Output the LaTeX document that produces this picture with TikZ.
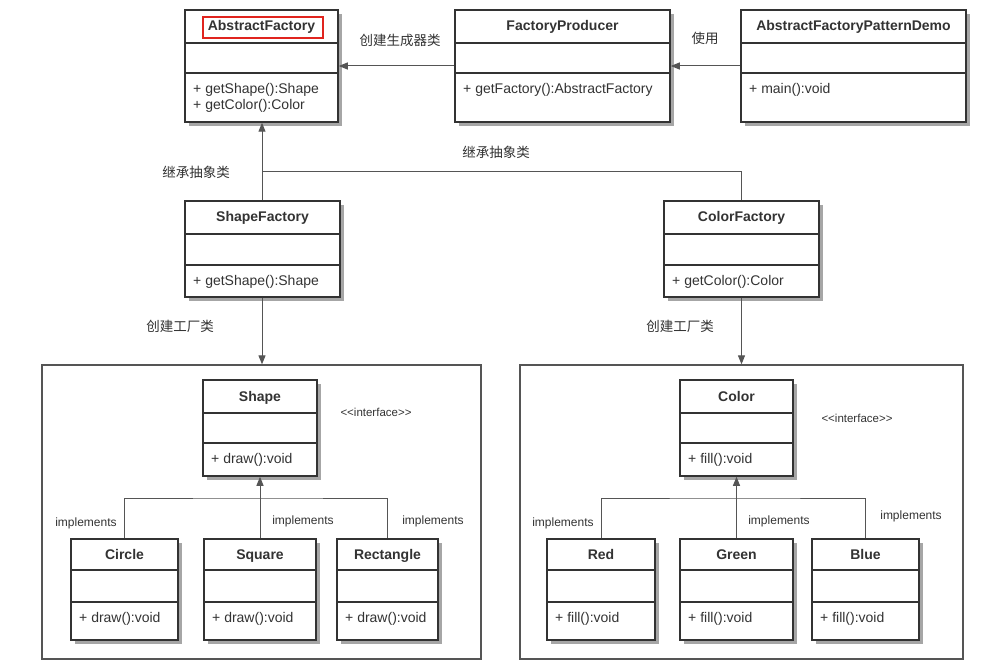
\documentclass[tikz,border=0pt]{standalone}
\usepackage{fontspec}
\setmainfont{Liberation Sans}
\newfontfamily\cjk{Noto Sans CJK SC}
\usetikzlibrary{arrows.meta,shadows,fit}
\definecolor{boxline}{HTML}{333333}
\definecolor{connline}{HTML}{555555}
\definecolor{txt}{HTML}{333333}
\definecolor{hlred}{HTML}{E0241E}
\tikzset{
  clsbox/.style={draw=boxline, line width=1.5pt, fill=white, inner sep=0pt,
    drop shadow={shadow xshift=4pt, shadow yshift=-4pt, fill=black!35, opacity=1}},
  clsline/.style={draw=boxline, line width=1.3pt},
  clstitle/.style={font=\fontsize{14}{16}\selectfont\bfseries, text=txt, inner sep=0pt, text height=10pt, text depth=3pt},
  clsmeth/.style={font=\fontsize{14}{16}\selectfont, text=txt, inner sep=0pt, anchor=north west, align=left},
  contbox/.style={draw=connline, line width=1.3pt, inner sep=0pt},
  conn/.style={draw=connline, line width=1pt},
  arr/.style={conn, -{Triangle[length=9pt,width=7pt]}},
  cnlbl/.style={font=\cjk\fontsize{13.5}{15}\selectfont, text=txt, inner sep=0pt},
  implbl/.style={font=\fontsize{12}{14}\selectfont, text=txt, inner sep=0pt},
  iflbl/.style={font=\fontsize{11.5}{13}\selectfont, text=txt, inner sep=0pt},
  hlbox/.style={draw=hlred, line width=1.8pt, minimum width=120pt, minimum height=21pt, inner sep=0pt}
}
\newcommand{\umlcls}[9]{%
  \coordinate (#1-nw) at (#2,#3);
  \coordinate (#1-se) at (#4,#5);
  \node[clsbox, fit=(#1-nw)(#1-se)] (#1) {};
  \draw[clsline] (#2,#6) -- (#4,#6);
  \draw[clsline] (#2,#7) -- (#4,#7);
  \node[clstitle] (#1-t) at ({(#2+#4)/2},{(#3+#6)/2+1}) {#8};
  \node[clsmeth] (#1-m) at (#2+8,#7+10) {#9};
}
\begin{document}
\begin{tikzpicture}[x=1pt,y=-1pt]
\useasboundingbox (0,0) rectangle (995,671);
\fill[white] (0,0) rectangle (995,671);

% containers
\coordinate (lc-nw) at (42,365); \coordinate (lc-se) at (481,659);
\node[contbox, fit=(lc-nw)(lc-se)] (lc) {};
\coordinate (rc-nw) at (520,365); \coordinate (rc-se) at (963,659);
\node[contbox, fit=(rc-nw)(rc-se)] (rc) {};

% classes
\umlcls{af}{185}{10}{338}{122}{43}{73}{AbstractFactory}{+ getShape():Shape\\+ getColor():Color}
\node[hlbox] (af-hl) at (263,27.5) {};
\umlcls{fp}{455}{10}{670}{122}{43}{73}{FactoryProducer}{+ getFactory():AbstractFactory}
\umlcls{demo}{741}{10}{966}{122}{43}{73}{AbstractFactoryPatternDemo}{+ main():void}
\umlcls{sf}{185}{201}{340}{297}{234}{265}{ShapeFactory}{+ getShape():Shape}
\umlcls{cf}{664}{201}{819}{297}{234}{265}{ColorFactory}{+ getColor():Color}
\umlcls{shape}{203}{380}{317}{476}{413}{443}{Shape}{+ draw():void}
\umlcls{color}{680}{380}{793}{476}{413}{443}{Color}{+ fill():void}
\umlcls{circle}{71}{539}{178}{640}{570}{602}{Circle}{+ draw():void}
\umlcls{square}{204}{539}{316}{640}{570}{602}{Square}{+ draw():void}
\umlcls{rect}{337}{539}{438}{640}{570}{602}{Rectangle}{+ draw():void}
\umlcls{red}{547}{539}{655}{640}{570}{602}{Red}{+ fill():void}
\umlcls{green}{680}{539}{793}{640}{570}{602}{Green}{+ fill():void}
\umlcls{blue}{812}{539}{919}{640}{570}{602}{Blue}{+ fill():void}

% connectors top
\draw[arr] (fp.west) -- (af.east);
\draw[arr] (demo.west) -- (fp.east);
\coordinate (jn) at (262,172);
\draw[arr] (sf.north -| jn) -- (af.south -| jn);
\draw[conn] (cf.north) |- (jn);
\draw[arr] (sf.south -| jn) -- (lc.north -| jn);
\draw[arr] (cf.south) -- (cf.south |- rc.north);

% shape hierarchy
\coordinate (lj) at (260,498);
\draw[arr] (square.north -| lj) -- (shape.south -| lj);
\draw[conn] (circle.north) |- (lj) -| (rect.north);
\coordinate (rj) at (736.5,498);
\draw[arr] (green.north -| rj) -- (color.south -| rj);
\draw[conn] (red.north) |- (rj) -| (blue.north);

% labels
\node[cnlbl] (l1) at (400,40) {创建生成器类};
\node[cnlbl] (l2) at (705,38) {使用};
\node[cnlbl] (l3) at (196,172) {继承抽象类};
\node[cnlbl] (l4) at (496,152) {继承抽象类};
\node[cnlbl] (l5) at (180,326) {创建工厂类};
\node[cnlbl] (l6) at (680,326) {创建工厂类};
\node[iflbl] (if1) at (376,412) {<{}<interface>{}>};
\node[iflbl] (if2) at (857,418) {<{}<interface>{}>};
\node[implbl] (i1) at (86,523) {implements};
\node[implbl] (i2) at (303,521) {implements};
\node[implbl] (i3) at (433,521) {implements};
\node[implbl] (i4) at (563,523) {implements};
\node[implbl] (i5) at (779,521) {implements};
\node[implbl] (i6) at (911,516) {implements};
\end{tikzpicture}
\end{document}
